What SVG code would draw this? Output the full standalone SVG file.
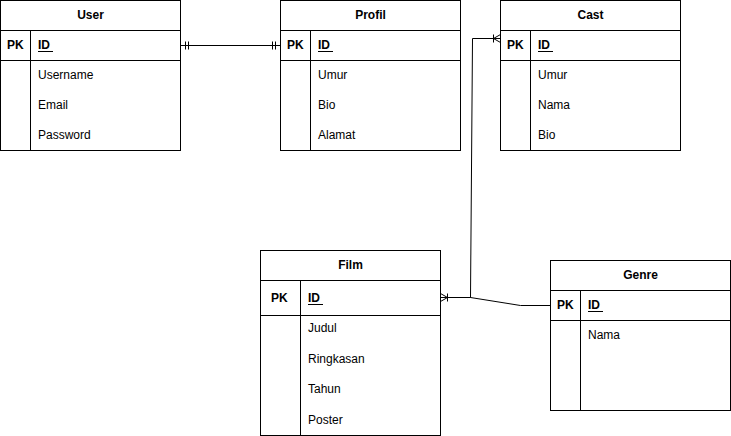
<svg xmlns="http://www.w3.org/2000/svg" width="731" height="436" viewBox="0 0 731 436">
<style>
.box{fill:#fff;stroke:#000;stroke-width:1}
.ln{stroke:#000;stroke-width:1;fill:none}
text{font-family:"Liberation Sans",Arial,sans-serif;font-size:12px;fill:#000}
.t{font-weight:bold;text-anchor:middle}
.b{font-weight:bold}
.e{fill:none;stroke:#000;stroke-width:1}
</style>
<defs>
<marker id="one" markerUnits="userSpaceOnUse" markerWidth="10" markerHeight="10" refX="0" refY="0" orient="auto-start-reverse" overflow="visible">
<path d="M-5,-4V4M-8,-4V4" stroke="#000" stroke-width="1" fill="none"/>
</marker>
<marker id="many" markerUnits="userSpaceOnUse" markerWidth="10" markerHeight="10" refX="0" refY="0" orient="auto-start-reverse" overflow="visible">
<path d="M0,-4L-7,0L0,4M-7,-4V4" stroke="#000" stroke-width="1" fill="none"/>
</marker>
</defs>
<g id="connectors">
<path class="e" d="M180.5,45.5H280.5" marker-start="url(#one)" marker-end="url(#one)"/>
<path class="e" d="M440.5,297.5H470.5L472.5,38.5H500.5" marker-start="url(#many)" marker-end="url(#many)"/>
<path class="e" d="M440.5,297.5H470.5L520.5,305.5H550.5"/>
</g>
<g id="user">
<rect class="box" x="0.5" y="0.5" width="180" height="150"/>
<path class="ln" d="M0.5,30.5H180.5M0.5,60.5H180.5M30.5,30.5V150.5"/>
<text class="t" x="90.5" y="19">User</text>
<text class="b" x="7" y="49">PK</text>
<text class="b" x="38" y="49">ID</text>
<path class="ln" d="M38,51.5H53"/>
<text x="38" y="79">Username</text>
<text x="38" y="109">Email</text>
<text x="38" y="139">Password</text>
</g>
<g id="profil">
<rect class="box" x="280.5" y="0.5" width="180" height="150"/>
<path class="ln" d="M280.5,30.5H460.5M280.5,60.5H460.5M310.5,30.5V150.5"/>
<text class="t" x="370.5" y="19">Profil</text>
<text class="b" x="287" y="49">PK</text>
<text class="b" x="318" y="49">ID</text>
<path class="ln" d="M318,51.5H333"/>
<text x="318" y="79">Umur</text>
<text x="318" y="109">Bio</text>
<text x="318" y="139">Alamat</text>
</g>
<g id="cast">
<rect class="box" x="500.5" y="0.5" width="180" height="150"/>
<path class="ln" d="M500.5,30.5H680.5M500.5,60.5H680.5M530.5,30.5V150.5"/>
<text class="t" x="590.5" y="19">Cast</text>
<text class="b" x="507" y="49">PK</text>
<text class="b" x="538" y="49">ID</text>
<path class="ln" d="M538,51.5H553"/>
<text x="538" y="79">Umur</text>
<text x="538" y="109">Nama</text>
<text x="538" y="139">Bio</text>
</g>
<g id="film">
<rect class="box" x="260.5" y="250.5" width="180" height="185"/>
<path class="ln" d="M260.5,280.5H440.5M260.5,315.5H440.5M300.5,280.5V435.5"/>
<text class="t" x="350.5" y="269">Film</text>
<text class="b" x="271" y="302">PK</text>
<text class="b" x="308" y="302">ID</text>
<path class="ln" d="M308,304.5H323"/>
<text x="308" y="332">Judul</text>
<text x="308" y="363">Ringkasan</text>
<text x="308" y="393">Tahun</text>
<text x="308" y="424">Poster</text>
</g>
<g id="genre">
<rect class="box" x="550.5" y="260.5" width="180" height="150"/>
<path class="ln" d="M550.5,290.5H730.5M550.5,320.5H730.5M580.5,290.5V410.5"/>
<text class="t" x="640.5" y="279">Genre</text>
<text class="b" x="557" y="309">PK</text>
<text class="b" x="588" y="309">ID</text>
<path class="ln" d="M588,311.5H603"/>
<text x="588" y="339">Nama</text>
</g>
</svg>
